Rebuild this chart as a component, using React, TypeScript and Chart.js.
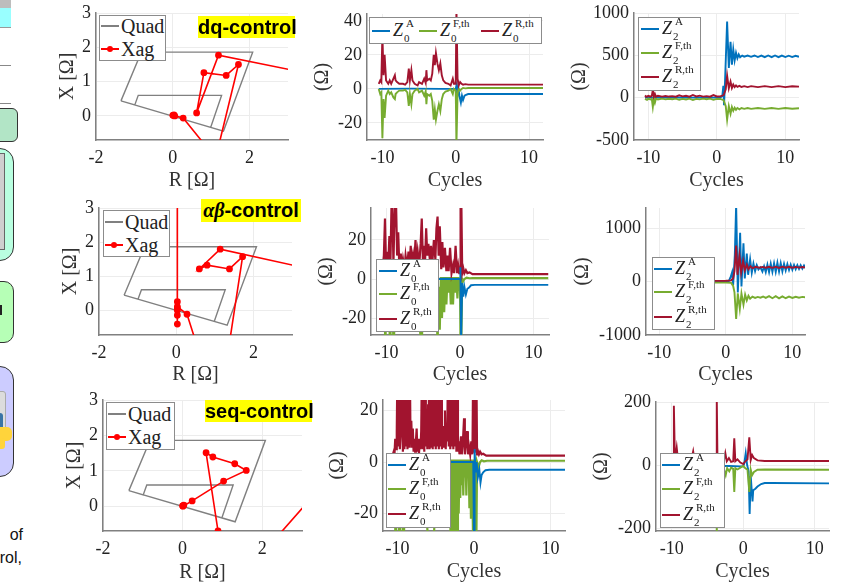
import React, { useEffect, useRef } from "react";
import { Chart, registerables } from "chart.js";

Chart.register(...registerables);

type Pt = [number, number];

// ---------- impedance plane ----------
const quadOutline: Pt[] = [[-1.35, 0.44], [-0.82, 1.86], [2.08, 1.86], [1.32, -0.44], [-1.35, 0.44], [-0.99, 0.32], [-0.9, 0.6], [1.27, 0.6], [0.99, -0.32]];
const xagDq: Pt[] = [[0.02, 0.02], [0.05, 0], [0.03, 0.03], [0, 0.02], [0.27, -0.06], [0.95, -1.0], [3.5, -1.0], [3.5, 1.25], [1.19, 1.77], [0.62, 0.09], [0.81, 1.26], [1.39, 1.18], [1.71, 1.5], [1.1, -1.3]];
const xagAb: Pt[] = [[0.03, 5], [0.03, 0.25], [0.03, -0.41], [0.03, 0.05], [0.03, -0.15], [0.03, 0], [0.03, 0.1], [0.28, -0.12], [0.64, -1.4], [3.5, -1.4], [3.5, 1.2], [1.14, 1.79], [0.6, 1.21], [0.8, 1.32], [1.38, 1.21], [1.72, 1.57], [1.32, -1.4]];
const xagSeq: Pt[] = [[0, 0.01], [0.03, 0.03], [0.01, 0], [0.24, 0.15], [1.03, 0.71], [1.6, 1.01], [1.31, 1.2], [0.76, 1.39], [0.59, 1.51], [0.89, -0.7], [0.97, -1.2], [2.11, -1.2], [3.5, 0.57]];
const rTicks = [-2, 0, 2];
const xTicks = [0, 1, 2, 3];

// ---------- Z0, dq ----------
const z0DqBlue: Pt[] = [[-10.5, 0], [-6, 0.2], [-2, 0], [0, 0], [0.1, 2], [0.2, -5], [0.35, 1], [0.5, -4], [0.7, -8], [0.85, -4], [1, -6.5], [1.2, -4], [1.4, -3.5], [1.7, -3], [12, -3]];
const z0DqGreen: Pt[] = [[-10.5, 0], [-10.3, -3], [-10.15, -2], [-10, -29], [-9.85, -6], [-9.7, -17], [-9.5, -4], [-9.2, -1], [-9, -3], [-8.8, -2], [-8.5, -5], [-8.3, -6], [-8.2, -3], [-8, -2], [-7.7, -1], [-7.2, -1], [-6.9, -0.5], [-6.6, -2], [-6.4, -10], [-6.25, -3], [-6.05, -9], [-5.9, -3], [-5.6, -1], [-5.2, 0], [-5, -2], [-4.6, -1], [-4.3, -4], [-4.1, -1.5], [-4, -9], [-3.9, -3], [-3.6, -4], [-3.4, -3], [-3.2, -7], [-3, -18], [-2.85, -12], [-2.7, -18], [-2.5, -13], [-2.3, -9], [-2.1, -13], [-1.9, -6], [-1.7, -3], [-1.4, -1.5], [-1, -1], [-0.7, 0], [-0.4, -3], [-0.25, 0], [0, -1], [0.1, -32], [0.25, -3], [0.4, 0], [0.6, -1], [0.8, 0], [1, 0.6], [1.3, 0.3], [1.7, 0.5], [12, 0.5]];
const z0DqRed: Pt[] = [[-10.5, 3], [-10.3, 5], [-10.15, 4], [-10, 32], [-9.85, 8], [-9.7, 20], [-9.5, 5], [-9.2, 3], [-9, 5], [-8.8, 3], [-8.5, 6], [-8.3, 8], [-8.2, 5], [-8, 4], [-7.7, 3], [-7.2, 3], [-6.9, 2.5], [-6.6, 4], [-6.4, 12], [-6.25, 5], [-6.05, 11], [-5.9, 5], [-5.6, 3], [-5.2, 2], [-5, 4], [-4.6, 3], [-4.3, 6], [-4.1, 3.5], [-4, 11], [-3.9, 5], [-3.6, 6], [-3.4, 5], [-3.2, 9], [-3, 20], [-2.85, 14], [-2.7, 21], [-2.5, 15], [-2.3, 11], [-2.1, 15], [-1.9, 8], [-1.7, 5], [-1.4, 3.5], [-1, 3], [-0.7, 2], [-0.4, 6], [-0.25, 3], [0, 3], [0.1, 46], [0.25, 6], [0.4, 2], [0.6, 4], [0.8, 3], [1, 2.5], [1.3, 2.8], [1.7, 2.5], [12, 2.5]];

// ---------- Z2, dq ----------
const z2DqBlue: Pt[] = [[-10.5, 0], [-5, 0], [-1, 0], [0.5, 0], [0.8, 20], [0.95, 140], [1.05, -90], [1.2, 200], [1.5, 900], [1.75, 350], [2, 660], [2.2, 390], [2.4, 570], [2.6, 440], [2.8, 530], [3, 465], [3.2, 510], [3.4, 478], [3.7, 497], [4, 484], [4.5, 497], [5, 482], [5.5, 498], [6, 480], [6.5, 497], [7, 478], [7.5, 498], [8, 478], [8.5, 498], [9, 478], [9.5, 497], [10, 480], [10.5, 496], [11, 480], [11.5, 495], [12, 482]];
const z2DqGreen: Pt[] = [[-10.5, -15], [-10.2, -25], [-10, -12], [-9.7, -22], [-9.5, -15], [-9.35, -110], [-9.2, -15], [-9.05, -60], [-8.9, -12], [-8.6, -22], [-8, -12], [-7.5, -20], [-7, -13], [-6.5, -18], [-6, -12], [-5.5, -25], [-5, -15], [-4.5, -22], [-4, -12], [-3.5, -28], [-3, -14], [-2.5, -20], [-2, -12], [-1.5, -18], [-1, -12], [-0.5, -26], [0, -14], [0.5, -15], [1, -30], [1.3, -100], [1.5, -260], [1.75, -100], [2, -190], [2.2, -110], [2.4, -155], [2.6, -118], [2.8, -143], [3, -122], [3.3, -137], [3.6, -122], [4, -132], [4.5, -122], [5, -132], [6, -122], [7, -132], [8, -122], [9, -132], [10, -122], [11, -130], [12, -125]];
const z2DqRed: Pt[] = [[-10.5, 25], [-10.3, 10], [-10, 22], [-9.7, 12], [-9.5, 20], [-9.35, 90], [-9.2, 15], [-9.05, 45], [-8.9, 12], [-8.6, 22], [-8, 12], [-7.5, 20], [-7, 13], [-6.5, 18], [-6, 12], [-5.5, 28], [-5, 15], [-4.5, 22], [-4, 12], [-3.5, 32], [-3, 14], [-2.5, 24], [-2, 12], [-1.5, 18], [-1, 12], [-0.5, 30], [0, 14], [0.5, 15], [1, 30], [1.3, 100], [1.5, 260], [1.75, 110], [2, 190], [2.2, 115], [2.4, 155], [2.6, 125], [2.8, 145], [3, 128], [3.3, 140], [3.6, 126], [4, 136], [4.5, 125], [5, 136], [6, 125], [7, 136], [8, 125], [9, 136], [10, 125], [11, 134], [12, 130]];

// ---------- Z0, alpha-beta ----------
const z0AbBlue: Pt[] = [[-10.7, 0], [-3, 0], [-2, 0.1], [-1, 0], [0, 0], [0.05, 6], [0.15, -32], [0.3, -2], [0.45, -9], [0.6, -4], [0.8, -8], [1, -5], [1.2, -4.5], [1.5, -3.2], [2, -3], [12, -3]];
const z0AbGreen: Pt[] = [[-10.7, 0], [-10.3, -5], [-10.15, -35], [-10, -3], [-9.7, -12], [-9.5, -35], [-9.3, -8], [-9, -35], [-8.8, -5], [-8, -8], [-6, -6], [-5.2, -35], [-5, -4], [-4, -6], [-3.2, -8], [-3.05, -35], [-2.9, -4], [-2.75, -26], [-2.6, 1], [-2.45, -20], [-2.3, 1], [-2.15, -17], [-2, 1], [-1.85, -13], [-1.7, 1], [-1.55, -7], [-1.4, 1], [-1.25, -13], [-1.1, 1], [-0.95, -13], [-0.8, 1], [-0.65, -7], [-0.5, 1], [-0.35, -10], [-0.2, 1], [-0.1, -6], [0, 0], [0.07, -35], [0.17, -35], [0.3, 0], [0.45, -1], [0.6, 0], [0.9, 0.7], [1.3, 0.4], [1.7, 0.5], [12, 0.5]];
const z0AbRed: Pt[] = [[-10.7, 3], [-10.5, 6], [-10.35, 12], [-10.2, 31], [-10.05, 5], [-9.9, 14], [-9.75, 8], [-9.6, 22], [-9.45, 10], [-9.3, 40], [-9.2, 40], [-9.05, 8], [-8.95, 25], [-8.8, 40], [-8.7, 40], [-8.55, 12], [-8.4, 24], [-8.25, 6], [-8.05, 13], [-7.9, 5], [-7.75, 10], [-7.55, 5], [-7.4, 12], [-7.2, 6], [-7, 14], [-6.85, 7], [-6.7, 17], [-6.55, 8], [-6.4, 12], [-6.25, 6], [-6.05, 20], [-5.9, 8], [-5.75, 14], [-5.55, 7], [-5.35, 18], [-5.2, 31], [-5.05, 10], [-4.9, 17], [-4.75, 9], [-4.6, 26], [-4.45, 12], [-4.3, 18], [-4.1, 10], [-3.95, 17], [-3.75, 9], [-3.55, 20], [-3.35, 10], [-3.2, 26], [-3.05, 32], [-2.9, 12], [-2.75, 27], [-2.55, 5], [-2.4, 19], [-2.25, 6], [-2.05, 16], [-1.85, 4], [-1.7, 12], [-1.55, 4], [-1.35, 16], [-1.15, 3], [-0.95, 7], [-0.8, 3], [-0.6, 17], [-0.4, 3], [-0.25, 7], [-0.1, 3], [0, 3], [0.08, 40], [0.18, 40], [0.3, 3], [0.45, 5.5], [0.6, 3], [0.8, 4.5], [1, 3], [1.3, 3.4], [1.7, 2.5], [12, 2.5]];

// ---------- Z2, alpha-beta ----------
const z2AbBlue: Pt[] = [[-10.5, 0], [-1, 0], [0.4, 0], [0.7, 80], [0.95, 180], [1.1, -60], [1.35, 500], [1.55, 1450], [1.8, -200], [2.15, 920], [2.35, -90], [2.65, 720], [2.85, 60], [3.15, 530], [3.35, 130], [3.65, 420], [3.9, 170], [4.15, 340], [4.4, 200], [4.65, 310], [4.9, 230], [5.2, 270], [5.5, 190], [5.75, 290], [6, 180], [6.25, 320], [6.5, 180], [6.75, 340], [7, 185], [7.25, 345], [7.5, 185], [7.75, 355], [8, 190], [8.25, 350], [8.5, 195], [8.75, 335], [9, 210], [9.25, 330], [9.5, 220], [9.75, 320], [10, 225], [10.25, 315], [10.5, 235], [10.75, 310], [11, 240], [11.25, 310], [11.5, 245], [11.75, 305], [12, 250]];
const z2AbGreen: Pt[] = [[-10.5, -15], [-5, -15], [-2, -15], [0, -18], [0.8, -22], [1.1, -80], [1.3, -200], [1.55, -700], [1.8, -220], [2.1, -510], [2.35, -220], [2.65, -430], [2.9, -240], [3.15, -350], [3.4, -265], [3.65, -320], [4, -280], [4.4, -305], [4.8, -285], [5.2, -300], [5.6, -278], [6, -305], [6.5, -272], [7, -310], [7.5, -272], [8, -312], [8.5, -275], [9, -310], [9.5, -280], [10, -305], [10.5, -282], [11, -300], [11.5, -285], [12, -295]];
const z2AbRed: Pt[] = [[-10.5, 15], [-5, 15], [-2, 15], [0, 18], [0.8, 25], [1.1, 60], [1.3, 200], [1.55, 680], [1.75, 130], [2.05, 490], [2.3, 170], [2.6, 390], [2.85, 210], [3.15, 320], [3.4, 235], [3.7, 290], [4, 255], [4.5, 280], [5, 262], [5.5, 278], [6, 262], [6.5, 280], [7, 260], [7.5, 282], [8, 258], [8.5, 282], [9, 262], [9.5, 280], [10, 262], [10.5, 278], [11, 265], [11.5, 275], [12, 268]];

// ---------- Z0, seq ----------
const z0SeqBlue: Pt[] = [[-10.7, 0], [-3, 0], [-1, 0], [-0.1, 0], [0, -30], [0.08, 5], [0.2, -4], [0.35, 0], [0.5, -6], [0.7, -3], [0.85, -8], [1, -5], [1.2, -4], [1.5, -3.2], [2, -3], [12, -3]];
const z0SeqGreen: Pt[] = [[-10.7, 0], [-10.4, -5], [-10.25, -35], [-10.1, -4], [-9.7, -35], [-9.5, -4], [-9.2, -35], [-9, -6], [-8, -10], [-6.5, -8], [-5.9, -35], [-5.7, -35], [-5.5, -35], [-5.3, -35], [-5, -8], [-4, -10], [-3.2, -12], [-3, -35], [-2.9, 1], [-2.8, -35], [-2.7, 1], [-2.6, -35], [-2.5, 1], [-2.4, -35], [-2.3, 1], [-2.2, -30], [-2.1, 1], [-2, -20], [-1.9, 1], [-1.8, -14], [-1.7, 1], [-1.6, -9], [-1.5, 1], [-1.4, -13], [-1.3, 1], [-1.2, -6], [-1.1, 1], [-1, -13], [-0.9, 1], [-0.8, -6], [-0.7, 1], [-0.6, -18], [-0.5, 1], [-0.4, -22], [-0.3, 1], [-0.2, -14], [-0.1, -35], [0, 1], [0.1, -35], [0.2, 0], [0.3, -35], [0.4, 0], [0.6, -2], [0.8, 0], [1, 0.7], [1.3, 0.3], [1.7, 0.5], [12, 0.5]];
const z0SeqRed: Pt[] = [[-10.7, 2], [-10.5, 4], [-10.4, 3], [-10.3, 9], [-10.2, 5], [-10.1, 12], [-10, 40], [-9.9, 6], [-9.8, 40], [-9.7, 5], [-9.6, 10], [-9.5, 18], [-9.4, 40], [-9.3, 4], [-9.2, 40], [-9.1, 5], [-9, 40], [-8.9, 6], [-8.8, 40], [-8.7, 5], [-8.6, 40], [-8.5, 6], [-8.4, 40], [-8.3, 8], [-8.2, 16], [-8.1, 6], [-8, 13], [-7.9, 4], [-7.8, 9], [-7.7, 4], [-7.6, 8], [-7.5, 13], [-7.4, 4], [-7.3, 9], [-7.2, 3], [-7.1, 8], [-7, 5], [-6.9, 12], [-6.8, 40], [-6.7, 5], [-6.6, 40], [-6.5, 4], [-6.4, 40], [-6.3, 6], [-6.2, 18], [-6.1, 5], [-6, 22], [-5.9, 40], [-5.8, 5], [-5.7, 40], [-5.6, 6], [-5.5, 40], [-5.4, 5], [-5.3, 40], [-5.2, 6], [-5.1, 40], [-5, 5], [-4.9, 40], [-4.8, 6], [-4.7, 40], [-4.6, 5], [-4.5, 40], [-4.4, 6], [-4.3, 40], [-4.2, 5], [-4.1, 10], [-4, 14], [-3.9, 6], [-3.8, 20], [-3.7, 5], [-3.6, 15], [-3.5, 8], [-3.4, 40], [-3.3, 6], [-3.2, 40], [-3.1, 5], [-3, 40], [-2.9, 6], [-2.8, 40], [-2.7, 5], [-2.6, 40], [-2.5, 6], [-2.4, 40], [-2.3, 4], [-2.2, 40], [-2.1, 4], [-2, 8], [-1.9, 3], [-1.7, 10], [-1.6, 3], [-1.45, 8], [-1.3, 17], [-1.2, 3], [-1.05, 8], [-0.9, 12], [-0.8, 3], [-0.65, 6], [-0.5, 3], [-0.35, 8], [-0.2, 3], [-0.1, 40], [0, 4], [0.1, 40], [0.2, 4], [0.3, 40], [0.4, 3], [0.5, 4.5], [0.65, 3], [0.8, 4], [1, 3], [1.2, 3.2], [1.6, 2.5], [12, 2.5]];

// ---------- Z2, seq ----------
const z2SeqBlue: Pt[] = [[-10.5, -3], [-2, -3], [-0.5, -4], [0, -4], [0.15, 5], [0.35, 38], [0.55, 0], [0.75, -20], [0.9, -155], [1.05, -35], [1.3, -115], [1.4, -80], [1.7, -75], [2, -68], [2.5, -60], [3, -57], [4, -57], [12, -58]];
const z2SeqGreen: Pt[] = [[-10.5, -14], [-4, -14], [-3.75, -14], [-3.7, -230], [-3.6, -12], [-2.7, -12], [-2.45, -32], [-2.25, -10], [-1.95, -20], [-1.7, -8], [-1.4, -12], [-1.25, -85], [-1.1, -10], [-0.8, -14], [-0.4, -8], [0, -3], [0.3, -10], [0.6, -15], [0.85, -85], [1.05, -14], [1.25, -32], [1.5, -22], [2, -15], [3, -14], [12, -15]];
const z2SeqRed: Pt[] = [[-10.5, 14], [-10, 12], [-9.8, 12], [-9.7, 188], [-9.55, 10], [-9.3, 55], [-9.1, 12], [-7.3, 14], [-7, 44], [-6.8, 12], [-4.5, 14], [-3.78, 14], [-3.7, 215], [-3.6, 14], [-2.9, 12], [-2.7, 14], [-2.5, 38], [-2.3, 12], [-2, 22], [-1.7, 10], [-1.4, 12], [-1.25, 85], [-1.1, 12], [-0.8, 18], [-0.4, 8], [0, 3], [0.3, 12], [0.6, 18], [0.85, 88], [1.05, 16], [1.25, 32], [1.5, 22], [2, 15], [3, 13], [12, 13]];

const cycleTicks = [-10, 0, 10];
const z0DqTicks = [-20, 0, 20, 40];
const z2DqTicks = [-500, 0, 500, 1000];
const z0Ticks = [-20, 0, 20];
const z2AbTicks = [-1000, 0, 1000];
const z2SeqTicks = [-200, 0, 200];

const BLUE = "#0072BD";
const GREEN = "#77AC30";
const RED = "#A2142F";
const SERIF = "'Liberation Serif', serif";
const SANS = "'Liberation Sans', Arial, sans-serif";

type Rect = { l: number; r: number; t: number; b: number };
type Panel = {
  kind: "rx" | "z";
  rect: Rect; yTitleX: number; xTitleY: number;
  xMin: number; xMax: number; yMin: number; yMax: number;
  xT: number[]; yT: number[];
  xLabel: string; yLabel: string;
  series: { data: Pt[]; color: string; marker?: boolean; w?: number }[];
};

// Chart.js paints the first dataset last, so the first entry ends up on top.
const zSeries = (b: Pt[], g: Pt[], r: Pt[]) => [
  { data: r, color: RED }, { data: g, color: GREEN }, { data: b, color: BLUE },
];
const zSeriesDense = (b: Pt[], g: Pt[], r: Pt[]) => [
  { data: b, color: BLUE }, { data: r, color: RED, w: 2.2 }, { data: g, color: GREEN, w: 2.2 },
];
const rxSeries = (x: Pt[]) => [
  { data: x, color: "#ff0000", marker: true, w: 1.6 }, { data: quadOutline, color: "#808080", w: 1.4 },
];

const panels: Panel[] = [
  { kind: "rx", rect: { l: 96, r: 288, t: 13, b: 140 }, yTitleX: 68, xTitleY: 179, xMin: -2, xMax: 3, yMin: -0.7, yMax: 3, xT: rTicks, yT: xTicks, xLabel: "R [Ω]", yLabel: "X [Ω]", series: rxSeries(xagDq) },
  { kind: "z", rect: { l: 367, r: 543, t: 14, b: 140 }, yTitleX: 323, xTitleY: 179, xMin: -12.1, xMax: 11.9, yMin: -30, yMax: 44, xT: cycleTicks, yT: z0DqTicks, xLabel: "Cycles", yLabel: "(Ω)", series: zSeries(z0DqBlue, z0DqGreen, z0DqRed) },
  { kind: "z", rect: { l: 634, r: 799, t: 13, b: 140 }, yTitleX: 580, xTitleY: 179, xMin: -12.1, xMax: 12, yMin: -500, yMax: 1000, xT: cycleTicks, yT: z2DqTicks, xLabel: "Cycles", yLabel: "(Ω)", series: zSeries(z2DqBlue, z2DqGreen, z2DqRed) },
  { kind: "rx", rect: { l: 99, r: 292, t: 208, b: 335 }, yTitleX: 71, xTitleY: 373, xMin: -2, xMax: 3, yMin: -0.73, yMax: 3, xT: rTicks, yT: xTicks, xLabel: "R [Ω]", yLabel: "X [Ω]", series: rxSeries(xagAb) },
  { kind: "z", rect: { l: 371, r: 549, t: 208, b: 335 }, yTitleX: 327, xTitleY: 373, xMin: -12.1, xMax: 12.1, yMin: -28.7, yMax: 36.4, xT: cycleTicks, yT: z0Ticks, xLabel: "Cycles", yLabel: "(Ω)", series: zSeriesDense(z0AbBlue, z0AbGreen, z0AbRed) },
  { kind: "z", rect: { l: 646, r: 805, t: 208, b: 335 }, yTitleX: 583, xTitleY: 373, xMin: -12, xMax: 11.9, yMin: -1000, yMax: 1383, xT: cycleTicks, yT: z2AbTicks, xLabel: "Cycles", yLabel: "(Ω)", series: zSeries(z2AbBlue, z2AbGreen, z2AbRed) },
  { kind: "rx", rect: { l: 103, r: 302, t: 400, b: 531 }, yTitleX: 75, xTitleY: 571, xMin: -2, xMax: 3, yMin: -0.7, yMax: 3, xT: rTicks, yT: xTicks, xLabel: "R [Ω]", yLabel: "X [Ω]", series: rxSeries(xagSeq) },
  { kind: "z", rect: { l: 383, r: 565, t: 400, b: 531 }, yTitleX: 338, xTitleY: 570, xMin: -11.9, xMax: 11.9, yMin: -26.8, yMax: 24.1, xT: cycleTicks, yT: z0Ticks, xLabel: "Cycles", yLabel: "(Ω)", series: zSeriesDense(z0SeqBlue, z0SeqGreen, z0SeqRed) },
  { kind: "z", rect: { l: 656, r: 829, t: 402, b: 531 }, yTitleX: 602, xTitleY: 570, xMin: -12.2, xMax: 12, yMin: -209, yMax: 200, xT: cycleTicks, yT: z2SeqTicks, xLabel: "Cycles", yLabel: "(Ω)", series: zSeries(z2SeqBlue, z2SeqGreen, z2SeqRed) },
];

const TITLE_LH = 22;
const PAD_T = 24;
const PAD_R = 12;

function PanelChart({ p }: { p: Panel }) {
  const ref = useRef<HTMLCanvasElement>(null);
  const cLeft = p.yTitleX - TITLE_LH / 2;
  const cTop = p.rect.t - PAD_T;
  const cW = p.rect.r + PAD_R - cLeft;
  const cH = p.xTitleY + TITLE_LH / 2 + 2 - cTop;
  useEffect(() => {
    const chart = new Chart(ref.current!, {
      type: "scatter",
      data: {
        datasets: p.series.map((s) => ({
          data: s.data.map(([x, y]) => ({ x, y })),
          showLine: true,
          borderColor: s.color,
          backgroundColor: s.color,
          borderWidth: s.w ?? 1.9,
          pointRadius: s.marker ? 2.6 : 0,
          pointHoverRadius: 0,
          borderJoinStyle: "miter" as const,
          tension: 0,
        })),
      },
      options: {
        animation: false,
        responsive: false,
        layout: { padding: { left: 0, top: PAD_T, right: PAD_R, bottom: 0 } },
        plugins: { legend: { display: false }, tooltip: { enabled: false }, title: { display: false } },
        scales: {
          x: {
            type: "linear", min: p.xMin, max: p.xMax,
            afterBuildTicks: (a: any) => { a.ticks = p.xT.map((value) => ({ value })); },
            afterFit: (a: any) => { a.height = cTop + cH - p.rect.b; },
            grid: { color: "#ececec", lineWidth: 1, drawTicks: false },
            border: { color: "#808080", width: 1.5 },
            ticks: { color: "#222", font: { family: SERIF, size: 18 }, padding: 7, maxRotation: 0, autoSkip: false, callback: (v: any) => String(v) },
            title: { display: true, text: p.xLabel, color: "#333", font: { family: SERIF, size: 20, lineHeight: TITLE_LH / 20 }, padding: 0 },
          },
          y: {
            type: "linear", min: p.yMin, max: p.yMax,
            afterBuildTicks: (a: any) => { a.ticks = p.yT.map((value) => ({ value })); },
            afterFit: (a: any) => { a.width = p.rect.l - cLeft; },
            grid: { color: "#ececec", lineWidth: 1, drawTicks: false },
            border: { color: "#808080", width: 1.5 },
            ticks: { color: "#222", font: { family: SERIF, size: 18 }, padding: 5, autoSkip: false, callback: (v: any) => String(v) },
            title: { display: true, text: p.yLabel, color: "#333", font: { family: SERIF, size: 20, lineHeight: TITLE_LH / 20 }, padding: 0 },
          },
        },
      },
    } as any);
    return () => chart.destroy();
  }, [p]);
  return <canvas ref={ref} width={cW} height={cH} style={{ position: "absolute", left: cLeft, top: cTop, width: cW, height: cH }} />;
}

const abs = (l: number, t: number, w: number, h: number, extra: React.CSSProperties = {}): React.CSSProperties => ({
  position: "absolute", left: l, top: t, width: w, height: h, boxSizing: "border-box", ...extra,
});

function Box({ b }: { b: number[] }) {
  return <div style={abs(b[0], b[1], b[2] - b[0], b[3] - b[1], { background: "#fff", border: "1px solid #8c8c8c" })} />;
}

function ZEntry({ x, y, color, sup, sub, len = 18 }: { x: number; y: number; color: string; sup: string; sub: string; len?: number }) {
  const t = { position: "absolute" as const, fontFamily: SERIF, color: "#222", whiteSpace: "nowrap" as const, lineHeight: 1 };
  const zx = x + len + 3;
  return (
    <>
      <div style={abs(x, y - 1, len, 2, { background: color })} />
      <span style={{ ...t, left: zx, top: y - 10, fontSize: 18, fontStyle: "italic" }}>Z</span>
      <span style={{ ...t, left: zx + 13, top: y - 13, fontSize: 11 }}>{sup}</span>
      <span style={{ ...t, left: zx + 11, top: y + 2, fontSize: 11 }}>{sub}</span>
    </>
  );
}

function RxLegend({ b, x, y1, y2, len = 18 }: { b: number[]; x: number; y1: number; y2: number; len?: number }) {
  const t = { position: "absolute" as const, left: x + len + 2, fontFamily: SERIF, fontSize: 20, color: "#222", lineHeight: 1 };
  return (
    <>
      <Box b={b} />
      <div style={abs(x, y1 - 1, len, 2, { background: "#808080" })} />
      <span style={{ ...t, top: y1 - 10 }}>Quad</span>
      <div style={abs(x, y2 - 1, len, 2, { background: "#ff0000" })} />
      <div style={abs(x + len / 2 - 3, y2 - 3, 6, 6, { background: "#ff0000", borderRadius: 3 })} />
      <span style={{ ...t, top: y2 - 10 }}>Xag</span>
    </>
  );
}

function ZLegend({ b, rows, x, sub }: { b: number[]; rows: number[]; x: number; sub: string }) {
  return (
    <>
      <Box b={b} />
      <ZEntry x={x} y={rows[0]} color={BLUE} sup="A" sub={sub} />
      <ZEntry x={x} y={rows[1]} color={GREEN} sup="F,th" sub={sub} />
      <ZEntry x={x} y={rows[2]} color={RED} sup="R,th" sub={sub} />
    </>
  );
}

function Tag({ l, t, w, h, children }: { l: number; t: number; w: number; h: number; children: React.ReactNode }) {
  return (
    <div style={abs(l, t, w, h, { background: "#ffff00", fontFamily: SANS, fontWeight: 700, fontSize: 20, lineHeight: `${h}px`, textAlign: "center", whiteSpace: "nowrap", color: "#000" })}>
      {children}
    </div>
  );
}

function LeftColumn() {
  const frame = "1.5px solid #333";
  return (
    <>
      <div style={abs(0, 0, 11, 8, { background: "#bdbdbd" })} />
      <div style={abs(0, 8, 11, 20, { background: "#99ffff", borderBottom: "1px solid #999" })} />
      <div style={abs(0, 65, 11, 1, { background: "#888" })} />
      <div style={abs(0, 103, 11, 1, { background: "#888" })} />
      <div style={abs(-12, 108, 30, 34, { background: "#b2e5c6", border: frame, borderRadius: 6 })} />
      <div style={abs(-20, 148, 34, 113, { background: "#b9ffe0", border: frame, borderRadius: 14 })} />
      <div style={abs(-6, 153, 11, 97, { background: "#cfcfcf", border: "1px solid #666" })} />
      <div style={abs(-20, 281, 34, 62, { background: "#b6ffb6", border: frame, borderRadius: 10 })} />
      <div style={abs(0, 305, 1.5, 10, { background: "#222" })} />
      <div style={abs(-20, 366, 34, 111, { background: "#ccccff", border: frame, borderRadius: 14 })} />
      <div style={abs(-6, 391, 12, 40, { background: "#dcdcdc", border: "1px solid #aaa", borderRadius: 3 })} />
      <div style={abs(-4, 413, 7, 18, { background: "#3a74a5", borderRadius: 3 })} />
      <div style={abs(-4, 427, 16, 14, { background: "#ffd43b", borderRadius: 5 })} />
      <div style={abs(-2, 438, 7, 11, { background: "#ffd43b", borderRadius: 3 })} />
      <span style={{ position: "absolute", right: 867 - 23, top: 525, fontFamily: SANS, fontSize: 16, lineHeight: "19px", color: "#111" }}>of</span>
      <span style={{ position: "absolute", right: 867 - 22, top: 548, fontFamily: SANS, fontSize: 16, lineHeight: "19px", color: "#111" }}>rol,</span>
    </>
  );
}

export default function App() {
  return (
    <div style={{ position: "absolute", left: 0, top: 0, width: 867, height: 582, overflow: "hidden", background: "#fff" }}>
      <LeftColumn />
      {panels.map((p, i) => <PanelChart key={i} p={p} />)}

      <RxLegend b={[99, 15, 166, 61]} x={101} y1={26} y2={49} />
      <RxLegend b={[103, 210, 170, 257]} x={105} y1={222} y2={245} />
      <RxLegend b={[106, 402, 175, 450]} x={108} y1={414} y2={437} />

      <Box b={[369, 17, 542, 44]} />
      <ZEntry x={372} y={31} color={BLUE} sup="A" sub="0" />
      <ZEntry x={419} y={31} color={GREEN} sup="F,th" sub="0" />
      <ZEntry x={481} y={31} color={RED} sup="R,th" sub="0" />

      <ZLegend b={[638, 17, 701, 91]} x={641} rows={[29, 53, 77]} sub="2" />
      <ZLegend b={[376, 259, 439, 332]} x={379} rows={[271, 294, 319]} sub="0" />
      <ZLegend b={[652, 257, 715, 330]} x={654} rows={[269, 292, 317]} sub="2" />
      <ZLegend b={[386, 453, 451, 528]} x={388} rows={[465, 489, 514]} sub="0" />
      <ZLegend b={[660, 453, 725, 528]} x={662} rows={[465, 489, 515]} sub="2" />

      <Tag l={198} t={16} w={97} h={22}>dq-control</Tag>
      <Tag l={201} t={199} w={100} h={23}>
        <span style={{ fontFamily: SERIF, fontStyle: "italic" }}>αβ</span>-control
      </Tag>
      <Tag l={205} t={400} w={107} h={22}>seq-control</Tag>
    </div>
  );
}
